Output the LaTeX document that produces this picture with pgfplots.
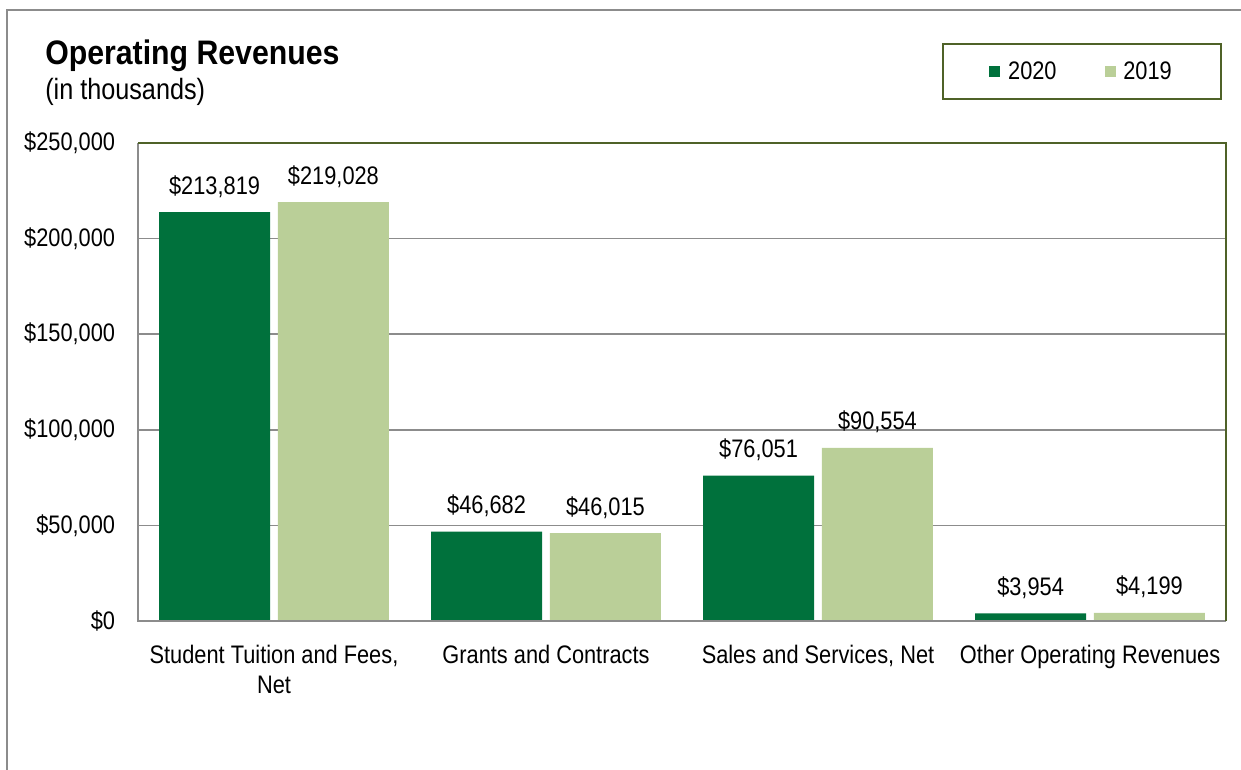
\documentclass[border=0pt]{standalone}
\usepackage{fontspec}
\setmainfont{Liberation Sans}[FakeStretch=0.86]
\newfontfamily\titlefont{Liberation Sans}[FakeStretch=0.89]
\usepackage{pgfplots}
\pgfplotsset{compat=1.18}
\definecolor{dg}{HTML}{00713C}
\definecolor{lg}{HTML}{BACF98}
\definecolor{ol}{HTML}{4F6228}
\definecolor{gr}{HTML}{8C8C8C}
\newcommand{\lf}{\fontsize{19}{22.5}\selectfont}
\begin{document}
\begin{tikzpicture}[x=0.75pt,y=0.75pt]
\useasboundingbox (0,0) rectangle (1241,770);
\draw[gr,line width=1.5pt] (7,-5) -- (7,760) -- (1250,760);
\node[anchor=base west, inner sep=0pt, font=\titlefont\bfseries\fontsize{25.5}{30}\selectfont] at (45,705) {Operating Revenues};
\node[anchor=base west, inner sep=0pt, font=\fontsize{22}{26}\selectfont] at (45,670) {(in thousands)};
\begin{axis}[
  at={(103.5pt,111.75pt)}, anchor=south west,
  scale only axis, width=816pt, height=358.5pt,
  ybar, bar width=0.408,
  ymin=0, ymax=250000, ytick={0,50000,100000,150000,200000,250000},
  xmin=-0.5, xmax=3.5, xtick={0,1,2,3},
  xticklabels={{Student Tuition and Fees,\\Net},{Grants and Contracts},{Sales and Services, Net},{Other Operating Revenues}},
  scaled y ticks=false,
  /pgf/number format/assume math mode=true,
  /pgf/number format/1000 sep={,},
  /pgf/number format/fixed,
  /pgf/number format/precision=0,
  yticklabel={\$\pgfmathprintnumber{\tick}},
  ymajorgrids, major grid style={gr, line width=1.1pt},
  major tick length=0pt,
  axis line style={draw=none},
  xticklabel style={align=center, anchor=north, inner sep=0pt, yshift=-18pt, font=\lf},
  yticklabel style={anchor=east, inner sep=0pt, xshift=-17pt, font=\lf},
  nodes near coords={\$\pgfmathprintnumber{\pgfplotspointmeta}},
  every node near coord/.append style={anchor=base, inner sep=0pt, yshift=13.5pt, font=\lf, text=black},
  legend columns=2,
  legend style={at={(0.8676,1.1496)}, anchor=center, draw=ol, line width=1.5pt,
    inner xsep=35pt, inner ysep=11.25pt, font=\lf,
    /tikz/every even column/.append style={column sep=34pt}},
  legend image code/.code={\fill[#1] (0pt,-4.1pt) rectangle (8.25pt,4.1pt); \path (12pt,0pt);},
  clip=false,
]
\addplot[fill=dg, draw=none, bar shift=-0.2185] coordinates {(0,213819) (1,46682) (2,76051) (3,3954)};
\addplot[fill=lg, draw=none, bar shift=0.2185] coordinates {(0,219028) (1,46015) (2,90554) (3,4199)};
\legend{2020,2019}
\draw[gr, line width=1.5pt] (rel axis cs:1,0) -- (rel axis cs:0,0) -- (rel axis cs:0,1);
\draw[ol, line width=1.5pt] (rel axis cs:0,1) -- (rel axis cs:1,1) -- (rel axis cs:1,0);
\end{axis}
\end{tikzpicture}
\end{document}
